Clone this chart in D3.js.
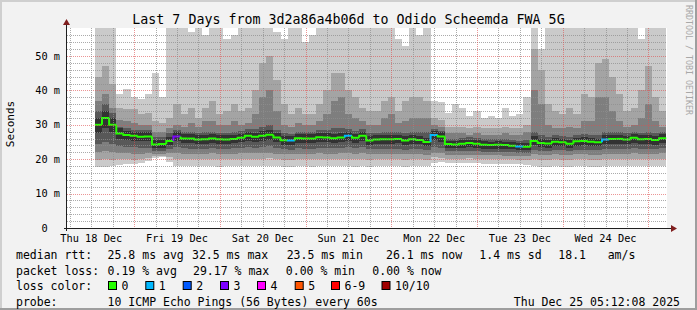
<!DOCTYPE html>
<html>
<head>
<meta charset="utf-8">
<script src="https://cdn.jsdelivr.net/npm/d3@7"></script>
<style>
body { margin: 0; background: #f2f2f2; }
text { font-family: "DejaVu Sans Mono", monospace; fill: #000; }
</style>
</head>
<body>
<svg id="chart"></svg>
<script>
// smokeping week view, 2h consolidated bins starting Thu 18 Dec 13:00
var binStart = Date.UTC(2025, 11, 18, 13, 0, 0);
var binHours = 2;
var tStart = Date.UTC(2025, 11, 18, 5, 12, 8);
var tEnd = Date.UTC(2025, 11, 25, 5, 12, 8);

var median = [
  30.0, 32.0, 30.0, 27.5, 27.0, 26.8, 26.5, 26.6, 24.3, 24.4,
  25.3, 26.6, 26.0, 26.0, 25.7, 25.8, 26.0, 25.8, 25.7, 25.9,
  26.2, 26.8, 26.5, 26.8, 27.1, 26.3, 25.5, 25.4, 26.1, 26.0,
  26.0, 26.4, 26.3, 26.1, 26.3, 26.8, 26.2, 26.8, 25.4, 25.7,
  25.8, 25.8, 25.9, 25.4, 25.8, 25.6, 25.0, 27.0, 26.6, 24.4,
  24.3, 24.5, 24.7, 24.5, 24.2, 24.1, 24.2, 24.1, 23.9, 23.7,
  23.6, 25.3, 24.7, 24.6, 25.1, 24.9, 24.5, 25.2, 25.3, 25.1,
  24.9, 25.7, 25.9, 25.9, 25.7, 26.2, 25.8, 25.9, 25.6, 26.1
];
// lost pings (of 10) per bin
var loss = [
  0, 0, 0, 0, 0, 0, 0, 0, 0, 0,
  0, 3, 0, 0, 0, 0, 0, 0, 0, 0,
  0, 0, 0, 0, 0, 0, 0, 1, 0, 0,
  0, 0, 0, 0, 0, 1, 0, 0, 0, 0,
  0, 0, 0, 0, 0, 0, 0, 1, 0, 0,
  0, 0, 0, 0, 0, 0, 0, 0, 0, 1,
  0, 0, 0, 0, 0, 0, 0, 0, 0, 0,
  0, 1, 0, 0, 0, 0, 0, 0, 0, 0
];
// sorted pings, fastest (ping1) to slowest (ping10), ms
var ping1 = [
  17.8, 17.8, 17.9, 18.4, 18.5, 18.6, 18.8, 19.5, 20.3, 20.5,
  19.2, 18.0, 17.9, 18.0, 17.9, 17.9, 18.0, 17.8, 17.9, 18.0,
  17.9, 18.0, 17.9, 18.0, 18.1, 17.9, 17.7, 17.8, 17.9, 17.9,
  17.8, 18.0, 17.9, 17.9, 18.0, 18.0, 17.8, 18.0, 17.8, 17.9,
  17.9, 17.9, 18.0, 17.8, 17.9, 17.9, 17.9, 18.8, 19.2, 19.0,
  18.8, 18.8, 18.9, 18.8, 18.7, 18.7, 18.6, 18.6, 18.5, 18.5,
  18.3, 17.9, 17.8, 17.8, 17.9, 17.8, 17.8, 17.9, 17.9, 17.8,
  17.8, 17.9, 18.0, 18.0, 17.9, 18.0, 17.9, 18.0, 17.9, 18.0
];
var ping2 = [
  19.8, 20.0, 19.8, 20.0, 20.0, 19.9, 20.0, 20.3, 20.8, 21.0,
  20.5, 20.2, 20.0, 20.1, 20.0, 20.0, 20.1, 20.0, 20.0, 20.1,
  20.1, 20.2, 20.1, 20.2, 20.3, 20.1, 19.9, 19.9, 20.1, 20.0,
  20.0, 20.1, 20.1, 20.0, 20.1, 20.2, 20.0, 20.2, 19.9, 20.0,
  20.0, 20.0, 20.1, 19.9, 20.0, 20.0, 19.9, 20.5, 20.4, 20.2,
  20.2, 20.2, 20.3, 20.2, 20.1, 20.1, 20.1, 20.0, 20.0, 19.9,
  19.8, 20.0, 19.9, 19.9, 20.0, 19.9, 19.8, 20.0, 20.0, 19.9,
  19.9, 20.0, 20.1, 20.1, 20.0, 20.2, 20.0, 20.1, 20.0, 20.2
];
var ping3 = [
  22.0, 22.3, 22.0, 21.8, 21.7, 21.6, 21.6, 21.8, 21.5, 21.6,
  21.7, 21.8, 21.6, 21.6, 21.5, 21.6, 21.7, 21.5, 21.5, 21.6,
  21.7, 21.8, 21.7, 21.8, 21.9, 21.6, 21.4, 21.4, 21.6, 21.5,
  21.5, 21.7, 21.6, 21.6, 21.7, 21.8, 21.6, 21.8, 21.4, 21.5,
  21.5, 21.6, 21.6, 21.4, 21.5, 21.5, 21.3, 21.8, 21.7, 21.2,
  21.2, 21.2, 21.3, 21.2, 21.1, 21.1, 21.1, 21.0, 21.0, 20.9,
  20.8, 21.4, 21.2, 21.2, 21.4, 21.3, 21.2, 21.4, 21.4, 21.3,
  21.3, 21.5, 21.6, 21.6, 21.5, 21.7, 21.5, 21.6, 21.5, 21.7
];
var ping4 = [
  24.5, 25.0, 24.5, 23.8, 23.6, 23.5, 23.4, 23.4, 22.4, 22.5,
  23.0, 23.5, 23.2, 23.1, 23.0, 23.1, 23.2, 23.0, 23.0, 23.2,
  23.3, 23.6, 23.4, 23.6, 23.7, 23.3, 22.9, 22.8, 23.2, 23.1,
  23.1, 23.3, 23.3, 23.2, 23.3, 23.5, 23.2, 23.5, 22.9, 23.0,
  23.0, 23.0, 23.1, 22.8, 23.0, 22.9, 22.6, 23.6, 23.4, 22.3,
  22.3, 22.4, 22.5, 22.4, 22.2, 22.1, 22.2, 22.1, 22.0, 21.9,
  21.8, 22.8, 22.5, 22.4, 22.7, 22.6, 22.4, 22.8, 22.8, 22.7,
  22.6, 23.0, 23.1, 23.1, 23.0, 23.3, 23.1, 23.1, 23.0, 23.3
];
var ping5 = [
  27.5, 29.0, 27.8, 25.8, 25.5, 25.4, 25.2, 25.2, 23.3, 23.4,
  24.1, 25.2, 24.7, 24.6, 24.4, 24.5, 24.7, 24.5, 24.4, 24.6,
  24.9, 25.4, 25.1, 25.4, 25.6, 24.9, 24.2, 24.1, 24.8, 24.7,
  24.7, 25.0, 24.9, 24.8, 24.9, 25.3, 24.8, 25.3, 24.2, 24.4,
  24.5, 24.5, 24.6, 24.1, 24.5, 24.3, 23.8, 25.5, 25.1, 23.3,
  23.2, 23.4, 23.6, 23.4, 23.1, 23.0, 23.1, 23.0, 22.9, 22.7,
  22.6, 24.0, 23.5, 23.4, 23.8, 23.7, 23.3, 23.9, 24.0, 23.8,
  23.7, 24.3, 24.5, 24.5, 24.3, 24.8, 24.4, 24.5, 24.2, 24.7
];
var ping6 = [
  32.0, 34.0, 32.0, 29.0, 28.3, 28.0, 27.8, 28.0, 25.5, 25.6,
  26.5, 27.8, 27.2, 27.2, 26.9, 27.0, 27.2, 27.0, 26.9, 27.1,
  27.4, 28.0, 27.7, 28.1, 28.4, 27.5, 26.7, 26.6, 27.3, 27.2,
  27.2, 27.6, 27.5, 27.4, 27.6, 28.0, 27.4, 28.0, 26.6, 26.9,
  27.0, 27.0, 27.1, 26.6, 27.0, 26.8, 26.3, 28.2, 27.8, 25.4,
  25.3, 25.5, 25.7, 25.5, 25.2, 25.1, 25.2, 25.1, 24.9, 24.7,
  24.7, 26.6, 25.8, 25.7, 26.2, 26.0, 25.6, 26.3, 26.4, 26.2,
  26.0, 26.9, 27.0, 27.0, 26.8, 27.3, 26.9, 27.0, 26.7, 27.2
];
var ping7 = [
  34.0, 36.0, 33.5, 29.5, 29.0, 28.5, 28.5, 28.5, 26.5, 26.5,
  27.5, 28.5, 28.0, 28.0, 27.5, 27.8, 28.0, 27.7, 27.7, 28.0,
  28.2, 28.8, 28.8, 29.5, 30.0, 28.5, 27.5, 27.3, 28.0, 28.0,
  28.0, 28.5, 28.5, 29.0, 29.0, 28.8, 28.3, 28.8, 27.5, 27.7,
  28.0, 28.0, 28.0, 27.6, 28.0, 28.0, 28.0, 28.8, 28.3, 26.0,
  26.0, 26.2, 26.4, 26.2, 26.0, 25.8, 25.9, 25.8, 25.6, 25.4,
  25.6, 28.0, 27.0, 26.5, 27.0, 26.8, 26.5, 27.0, 27.3, 27.0,
  27.0, 27.8, 27.8, 27.8, 27.5, 28.0, 27.7, 28.0, 27.5, 27.8
];
var ping8 = [
  37.0, 39.0, 35.0, 31.5, 31.0, 30.5, 30.0, 30.0, 28.0, 28.0,
  29.0, 30.0, 29.5, 30.5, 29.5, 31.0, 31.0, 30.0, 30.0, 31.0,
  30.0, 30.5, 33.0, 38.0, 40.0, 34.0, 30.0, 29.5, 30.5, 30.0,
  30.0, 31.0, 33.0, 37.0, 38.0, 33.0, 32.0, 31.0, 30.0, 30.0,
  32.0, 33.0, 30.5, 31.0, 32.0, 32.0, 32.0, 30.0, 29.5, 27.5,
  27.5, 27.5, 27.0, 27.5, 27.0, 27.0, 27.0, 27.5, 27.0, 27.0,
  28.0, 40.0, 36.0, 30.0, 29.0, 29.0, 29.5, 29.0, 31.0, 31.0,
  38.0, 38.0, 34.0, 31.0, 29.5, 30.0, 32.0, 36.0, 31.0, 29.5
];
var ping9 = [
  44.0, 47.0, 42.0, 35.0, 34.5, 34.5, 33.0, 33.5, 31.0, 30.5,
  32.0, 36.0, 33.0, 35.0, 32.0, 35.0, 37.0, 33.0, 34.0, 36.0,
  34.0, 35.0, 40.0, 48.0, 50.0, 43.0, 36.0, 33.0, 35.0, 33.0,
  33.0, 36.0, 40.0, 45.0, 45.0, 40.0, 38.0, 35.0, 34.0, 34.0,
  37.0, 38.0, 34.0, 37.0, 38.0, 38.0, 37.0, 32.0, 31.5, 29.5,
  29.5, 29.5, 29.0, 29.5, 29.0, 29.0, 29.0, 29.5, 29.0, 29.0,
  30.0, 52.0, 46.0, 36.0, 34.0, 33.0, 35.0, 33.0, 39.0, 38.0,
  48.0, 49.0, 44.0, 39.0, 34.0, 35.0, 40.0, 47.0, 38.0, 34.0
];
var ping10 = [
  60.0, 60.0, 60.0, 39.0, 40.5, 38.0, 37.5, 39.0, 45.0, 38.0,
  60.0, 60.0, 60.0, 57.0, 60.0, 56.0, 60.0, 60.0, 55.0, 56.0,
  60.0, 60.0, 60.0, 60.0, 60.0, 57.0, 55.0, 60.0, 60.0, 54.0,
  56.0, 60.0, 60.0, 60.0, 60.0, 60.0, 60.0, 60.0, 60.0, 60.0,
  60.0, 60.0, 55.0, 53.0, 60.0, 56.0, 60.0, 37.0, 36.5, 33.5,
  36.0, 35.0, 32.5, 34.0, 32.0, 32.5, 32.0, 35.0, 32.5, 33.0,
  38.0, 60.0, 52.0, 60.0, 60.0, 60.0, 60.0, 60.0, 60.0, 60.0,
  60.0, 58.0, 60.0, 60.0, 60.0, 60.0, 55.0, 60.0, 60.0, 60.0
];

var yMajor = [0, 10, 20, 30, 40, 50];
var yLabels = ["0  ", "10 m", "20 m", "30 m", "40 m", "50 m"];

var titleText = "Last 7 Days from 3d2a86a4b06d to Odido Scheemda FWA 5G";
var rttStats = ["25.8 ms avg", "32.5 ms max", "23.5 ms min", "26.1 ms now", "1.4 ms sd", "18.1", "am/s"];
var lossStats = ["0.19 % avg", "29.17 % max", "0.00 % min", "0.00 % now"];
var lossLabels = ["0", "1", "2", "3", "4", "5", "6-9", "10/10"];
var lossColors = ["#26ff00", "#00b8ff", "#0059ff", "#7e00ff", "#ff00ff", "#ff5500", "#ff0000", "#a10000"];
var probeText = "10 ICMP Echo Pings (56 Bytes) every 60s";
var stampText = "Thu Dec 25 05:12:08 2025";

var smokeGrays = ["#cacaca", "#a4a4a4", "#7e7e7e", "#585858", "#323232"];

var W = 697, H = 310;
var plotLeft = 67, plotRight = 667, plotTop = 28, plotBottom = 228;

var svg = d3.select("#chart").attr("width", W).attr("height", H);

svg.append("rect").attr("width", W).attr("height", H).attr("fill", "#f2f2f2");
// shaded frame
svg.append("rect").attr("x", 0).attr("y", 0).attr("width", W).attr("height", 2).attr("fill", "#cfcfcf");
svg.append("rect").attr("x", 0).attr("y", 0).attr("width", 2).attr("height", H).attr("fill", "#cfcfcf");
svg.append("rect").attr("x", 0).attr("y", H - 2).attr("width", W).attr("height", 2).attr("fill", "#9e9e9e");
svg.append("rect").attr("x", W - 2).attr("y", 0).attr("width", 2).attr("height", H).attr("fill", "#9e9e9e");

svg.append("rect")
  .attr("x", plotLeft).attr("y", plotTop)
  .attr("width", plotRight - plotLeft).attr("height", plotBottom - plotTop)
  .attr("fill", "#ffffff");

var x = d3.scaleUtc().domain([tStart, tEnd]).range([plotLeft, plotRight]);
var y = d3.scaleLinear().domain([0, 200 / 3.44]).range([plotBottom, plotTop]);

svg.append("clipPath").attr("id", "plotclip")
  .append("rect")
  .attr("x", plotLeft).attr("y", plotTop)
  .attr("width", plotRight - plotLeft).attr("height", plotBottom - plotTop);

var g = svg.append("g").attr("clip-path", "url(#plotclip)");

var nBins = median.length;
var binTime = function(i) { return binStart + i * binHours * 3600e3; };
var idx = d3.range(nBins + 1);
var pings = [ping1, ping2, ping3, ping4, ping5, ping6, ping7, ping8, ping9, ping10];

// smoke: outer pair first, darker inner pairs on top
smokeGrays.forEach(function(col, k) {
  var lo = pings[k], hi = pings[9 - k];
  var area = d3.area()
    .curve(d3.curveStepAfter)
    .x(function(i) { return x(binTime(i)); })
    .y0(function(i) { return y(lo[Math.min(i, nBins - 1)]); })
    .y1(function(i) { return y(hi[Math.min(i, nBins - 1)]); });
  g.append("path")
    .attr("d", area(idx))
    .attr("fill", col)
    .attr("shape-rendering", "crispEdges");
});

function lossColor(n) {
  if (n <= 5) return lossColors[n];
  if (n < 10) return lossColors[6];
  return lossColors[7];
}

var line = d3.line()
  .x(function(d) { return x(d[0]); })
  .y(function(d) { return y(d[1]); });

median.forEach(function(v, i) {
  var prev = i ? median[i - 1] : v;
  g.append("path")
    .attr("d", line([[binTime(i), prev], [binTime(i), v], [binTime(i + 1), v]]))
    .attr("fill", "none")
    .attr("stroke", lossColor(loss[i]))
    .attr("stroke-width", 2);
});

// grid on top, like rrdtool
var grid = svg.append("g").attr("shape-rendering", "crispEdges");
var minorCol = "rgba(143,143,143,0.75)";
var majorCol = "rgba(222,79,79,0.6)";

d3.range(2, 58, 2).filter(function(v) { return v % 10 !== 0; }).forEach(function(v) {
  grid.append("line")
    .attr("x1", plotLeft).attr("x2", plotRight)
    .attr("y1", Math.round(y(v)) + 0.5).attr("y2", Math.round(y(v)) + 0.5)
    .attr("stroke", minorCol).attr("stroke-dasharray", "1,1");
});
yMajor.slice(1).forEach(function(v) {
  grid.append("line")
    .attr("x1", plotLeft).attr("x2", plotRight)
    .attr("y1", Math.round(y(v)) + 0.5).attr("y2", Math.round(y(v)) + 0.5)
    .attr("stroke", majorCol).attr("stroke-dasharray", "1,1");
});

d3.utcHour.every(6).range(new Date(tStart), new Date(tEnd))
  .filter(function(d) { return d.getUTCHours() !== 0; })
  .forEach(function(d) {
    grid.append("line")
      .attr("x1", Math.round(x(d)) + 0.5).attr("x2", Math.round(x(d)) + 0.5)
      .attr("y1", plotTop).attr("y2", plotBottom)
      .attr("stroke", minorCol).attr("stroke-dasharray", "1,1");
  });
d3.utcDay.range(new Date(tStart), new Date(tEnd)).forEach(function(d) {
  grid.append("line")
    .attr("x1", Math.round(x(d)) + 0.5).attr("x2", Math.round(x(d)) + 0.5)
    .attr("y1", plotTop).attr("y2", plotBottom)
    .attr("stroke", majorCol).attr("stroke-dasharray", "1,1");
});

// axes with arrows
var axisCol = "#1f1f1f", arrowCol = "#801f1f";
svg.append("line")
  .attr("x1", plotLeft - 3).attr("x2", plotRight + 5)
  .attr("y1", plotBottom + 0.5).attr("y2", plotBottom + 0.5)
  .attr("stroke", axisCol).attr("shape-rendering", "crispEdges");
svg.append("line")
  .attr("x1", plotLeft - 0.5).attr("x2", plotLeft - 0.5)
  .attr("y1", plotBottom + 3).attr("y2", plotTop - 4)
  .attr("stroke", axisCol).attr("shape-rendering", "crispEdges");
svg.append("path")
  .attr("d", "M" + (plotRight + 4) + "," + (plotBottom - 3) + "L" + (plotRight + 10) + "," + (plotBottom + 0.5) + "L" + (plotRight + 4) + "," + (plotBottom + 4) + "Z")
  .attr("fill", arrowCol);
svg.append("path")
  .attr("d", "M" + (plotLeft - 4) + "," + (plotTop - 3) + "L" + (plotLeft - 0.5) + "," + (plotTop - 9) + "L" + (plotLeft + 3) + "," + (plotTop - 3) + "Z")
  .attr("fill", arrowCol);

// y labels
yMajor.forEach(function(v, i) {
  svg.append("text")
    .attr("x", 60).attr("y", y(v) + 3.5)
    .attr("text-anchor", "end")
    .attr("font-size", 10.3)
    .style("white-space", "pre")
    .text(yLabels[i]);
});

// x labels at noon of each day
d3.utcDay.range(d3.utcDay.floor(new Date(tStart)), new Date(tEnd))
  .map(function(d) { return new Date(+d + 12 * 3600e3); })
  .filter(function(d) { return +d > tStart && +d < tEnd; })
  .forEach(function(d) {
    svg.append("text")
      .attr("x", x(d)).attr("y", 242)
      .attr("text-anchor", "middle")
      .attr("font-size", 10.3)
      .text(d3.utcFormat("%a %d %b")(d));
  });

svg.append("text")
  .attr("x", 348.5).attr("y", 23.5)
  .attr("text-anchor", "middle")
  .attr("font-size", 13.3)
  .text(titleText);

svg.append("text")
  .attr("transform", "translate(14,124) rotate(-90)")
  .attr("text-anchor", "middle")
  .attr("font-size", 11)
  .text("Seconds");

svg.append("text")
  .attr("transform", "translate(686,60) rotate(90)")
  .attr("text-anchor", "middle")
  .attr("font-size", 8.3)
  .style("fill", "#a8a8a8")
  .text("RRDTOOL / TOBI OETIKER");

// legend
var fs = 11.5;
var rowY = [259, 274.5, 290, 305.5];
var rttX = [107.6, 192, 286.7, 386, 479.3, 558.3, 607.7];
var lossX = [107.6, 193, 285.8, 372.3];
var boxX = [108, 145.3, 182.7, 220, 257, 294.7, 331, 381.5];

function legendText(xp, yp, s) {
  svg.append("text").attr("x", xp).attr("y", yp)
    .attr("font-size", fs).style("white-space", "pre").text(s);
}

legendText(16, rowY[0], "median rtt:");
rttStats.forEach(function(s, i) { legendText(rttX[i], rowY[0], s); });
legendText(16, rowY[1], "packet loss:");
lossStats.forEach(function(s, i) { legendText(lossX[i], rowY[1], s); });
legendText(16, rowY[2], "loss color:");
lossLabels.forEach(function(s, i) {
  svg.append("rect")
    .attr("x", boxX[i] + 0.5).attr("y", rowY[2] - 8.5)
    .attr("width", 8).attr("height", 8)
    .attr("fill", lossColors[i])
    .attr("stroke", "#000").attr("stroke-width", 1);
  legendText(boxX[i] + 13.5, rowY[2], s);
});
legendText(16, rowY[3], "probe:");
legendText(107.6, rowY[3], probeText);
svg.append("text").attr("x", 680).attr("y", rowY[3])
  .attr("text-anchor", "end").attr("font-size", fs).text(stampText);
</script>
</body>
</html>
